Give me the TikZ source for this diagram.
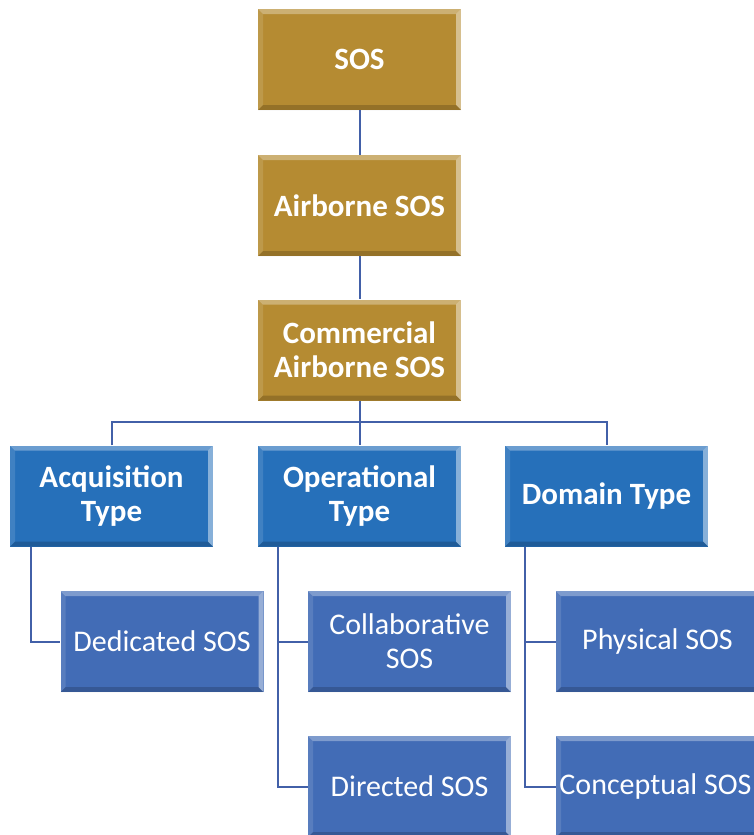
\documentclass[tikz,border=0pt]{standalone}
\usepackage{fontspec}
\setmainfont{Carlito}
\begin{document}
\definecolor{gold}{RGB}{181,139,50}
\definecolor{blueA}{RGB}{38,112,186}
\definecolor{blueB}{RGB}{66,108,182}
\definecolor{wire}{RGB}{66,96,168}
\begin{tikzpicture}[x=1pt,y=-1pt,
  bevel/.style={rectangle, minimum width=203pt, minimum height=101pt, inner sep=0pt,
    align=center, text=white,
    path picture={
      \coordinate (nw) at (path picture bounding box.north west);
      \coordinate (ne) at (path picture bounding box.north east);
      \coordinate (sw) at (path picture bounding box.south west);
      \coordinate (se) at (path picture bounding box.south east);
      % top highlight
      \fill[white,opacity=0.32] (nw) -- (ne) -- ([xshift=-5pt,yshift=-5pt]ne) -- ([xshift=5pt,yshift=-5pt]nw) -- cycle;
      % left face
      \fill[white,opacity=0.12] (nw) -- ([xshift=5pt,yshift=-5pt]nw) -- ([xshift=5pt,yshift=5pt]sw) -- (sw) -- cycle;
      % right face
      \fill[white,opacity=0.45] (ne) -- (se) -- ([xshift=-5pt,yshift=5pt]se) -- ([xshift=-5pt,yshift=-5pt]ne) -- cycle;
      % bottom shade
      \fill[black,opacity=0.18] (sw) -- ([xshift=5pt,yshift=5pt]sw) -- ([xshift=-5pt,yshift=5pt]se) -- (se) -- cycle;
    }},
  topbox/.style={bevel, fill=gold, font=\fontsize{31}{34}\selectfont\bfseries},
  midbox/.style={bevel, fill=blueA, font=\fontsize{31}{34}\selectfont\bfseries},
  leafbox/.style={bevel, fill=blueB, font=\fontsize{30}{34}\selectfont},
  link/.style={draw=wire, line width=2pt}
]
\useasboundingbox (0,0) rectangle (754,835);
\clip (0,0) rectangle (754,835);
\fill[white] (0,0) rectangle (754,835);

% upper chain
\node[topbox] (sos) at (359.5,59.5) {SOS};
\node[topbox] (air) at (359.5,205.5) {Airborne SOS};
\node[topbox] (com) at (359.5,350) {Commercial\\Airborne SOS};

% categories
\node[midbox] (acq) at (111.5,496) {Acquisition\\Type};
\node[midbox] (ope) at (359.5,496) {Operational\\Type};
\node[midbox] (dom) at (606.5,496) {Domain Type};

% leaves
\node[leafbox] (ded) at (162,641.5) {Dedicated SOS};
\node[leafbox] (col) at (409.5,641.5) {Collaborative\\SOS};
\node[leafbox] (phy) at (657.5,641.5) {Physical SOS};
\node[leafbox] (dir) at (409.5,786.5) {Directed SOS};
\node[leafbox] (con) at (657.5,786.5) {\hspace*{-4pt}Conceptual SOS};

% vertical chain
\draw[link] (sos.south) -- (air.north);
\draw[link] (air.south) -- (com.north);

% bus to categories
\coordinate (bus) at (359.5,422);
\draw[link] (com.south) -- (bus);
\draw[link] (acq.north) -- (acq.north |- bus) -- (dom.north |- bus) -- (dom.north);
\draw[link] (bus) -- (ope.north);

% category to leaf elbows
\draw[link] ([xshift=-81pt]acq.south) |- (ded.west);
\draw[link] ([xshift=-82pt]ope.south) |- (col.west);
\draw[link] ([xshift=-82pt]ope.south) |- (dir.west);
\draw[link] ([xshift=-82pt]dom.south) |- (phy.west);
\draw[link] ([xshift=-82pt]dom.south) |- (con.west);
\end{tikzpicture}
\end{document}
